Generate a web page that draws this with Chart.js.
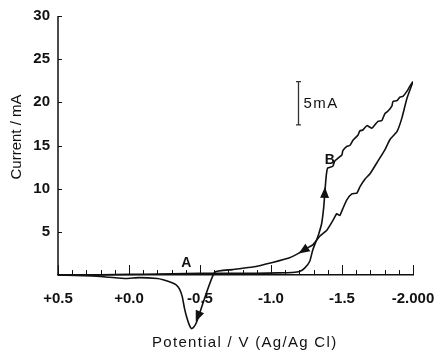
<!DOCTYPE html>
<html>
<head>
<meta charset="utf-8">
<script src="https://cdn.jsdelivr.net/npm/chart.js@4.4.0/dist/chart.umd.min.js"></script>
<style>
  html, body { margin: 0; padding: 0; background: #fff; }
</style>
</head>
<body>
<canvas id="cv" width="438" height="351"></canvas>
<script>
// forward sweep, +0.5 V -> -2.0 V (current in mA)
const forwardV = [0.5, 0.3, 0.1, -0.1, -0.3, -0.5, -0.7, -0.9, -1.05, -1.15, -1.2, -1.237, -1.273, -1.294,
  -1.315, -1.335, -1.357, -1.371, -1.379, -1.386, -1.393, -1.4, -1.435, -1.449, -1.47, -1.499, -1.506,
  -1.534, -1.555, -1.577, -1.612, -1.626, -1.647, -1.675, -1.711, -1.732, -1.753, -1.781, -1.802,
  -1.824, -1.852, -1.859, -1.887, -1.908, -1.929, -1.958, -1.979, -2.0];
const forwardI = [0, 0, 0.05, 0.1, 0.15, 0.2, 0.2, 0.2, 0.25, 0.3, 0.4, 0.8, 1.6, 2.9,
  3.8, 4.7, 6.0, 7.8, 9.5, 11.0, 12.0, 12.4, 12.6, 13.2, 13.5, 13.9, 14.4,
  14.9, 15.0, 15.6, 16.2, 16.7, 16.8, 17.3, 17.0, 17.4, 17.8, 17.9, 18.7,
  19.0, 19.6, 20.1, 20.2, 20.6, 20.7, 21.3, 21.9, 22.4];

// reverse sweep, -2.0 V -> +0.5 V
const reverseV = [-2.0, -1.958, -1.922, -1.887, -1.838, -1.802, -1.753, -1.696, -1.661, -1.626, -1.605,
  -1.569, -1.534, -1.506, -1.484, -1.463, -1.435, -1.393, -1.343, -1.294, -1.251, -1.202, -1.131,
  -1.011, -0.87, -0.729, -0.602, -0.475, -0.455, -0.44, -0.425, -0.405, -0.39, -0.375, -0.355,
  -0.33, -0.29, -0.24, -0.2, -0.072, 0.02, 0.14, 0.26, 0.5];
const reverseI = [22.4, 20.5, 18.2, 16.6, 15.7, 14.5, 13.2, 11.7, 11.1, 10.2, 9.5,
  9.4, 8.7, 7.7, 6.9, 7.1, 6.3, 5.2, 4.5, 3.5, 3.1, 2.6, 2.0,
  1.46, 0.93, 0.63, 0.3, -5.5, -6.05, -6.2, -5.8, -4.8, -3.8, -2.5, -1.6,
  -1.1, -0.8, -0.55, -0.4, -0.3, -0.4, -0.25, -0.1, 0];

const xTickLabels = { "5": "+0.5", "0": "+0.0", "-5": "-0.5", "-10": "-1.0", "-15": "-1.5", "-20": "-2.000" };
const yTickValues = [5, 10, 15, 20, 25, 30];

// peak labels and sweep arrows, in data units (V, mA)
const peakLabels = [["A", -0.404, 1.4], ["B", -1.414, 13.3]];
const arrows = [
  [-1.376, 8.3, -1.380, 10.2],
  [-1.25, 3.1, -1.195, 2.5],
  [-0.53, -3.0, -0.47, -5.4]
];
const scaleBar = { v: -1.188, from: 17.4, size: 5, text: "5mA" };

const fam = '"Liberation Sans", Arial, Helvetica, sans-serif';
const ink = '#111';

function toPoints(xs, ys) {
  return xs.map((v, i) => ({ x: v, y: ys[i] }));
}

const decor = {
  id: 'decor',
  afterDatasetsDraw(chart) {
    const ctx = chart.ctx;
    const xs = chart.scales.x, ys = chart.scales.y;
    const area = chart.chartArea;
    const y0 = ys.getPixelForValue(0);
    ctx.save();
    ctx.strokeStyle = ink;
    ctx.fillStyle = ink;

    // y axis line from 0 to 30
    ctx.lineWidth = 1.5;
    ctx.beginPath();
    ctx.moveTo(area.left, y0);
    ctx.lineTo(area.left, ys.getPixelForValue(30));
    ctx.stroke();

    // inward ticks
    ctx.lineWidth = 1;
    yTickValues.forEach(v => {
      const p = Math.round(ys.getPixelForValue(v)) + 0.5;
      ctx.beginPath();
      ctx.moveTo(area.left, p);
      ctx.lineTo(area.left + 4, p);
      ctx.stroke();
    });
    xs.ticks.forEach(t => {
      const k = Math.round(t.value * 10);
      const p = Math.round(xs.getPixelForValue(t.value)) + 0.5;
      const len = k % 5 === 0 ? 10 : 5;
      ctx.beginPath();
      ctx.moveTo(p, y0);
      ctx.lineTo(p, y0 - len);
      ctx.stroke();
    });

    // arrowheads along the sweep
    arrows.forEach(a => {
      const x1 = xs.getPixelForValue(a[0]), y1 = ys.getPixelForValue(a[1]);
      const x2 = xs.getPixelForValue(a[2]), y2 = ys.getPixelForValue(a[3]);
      const ang = Math.atan2(y2 - y1, x2 - x1);
      const L = 11, W = 4.5;
      ctx.beginPath();
      ctx.moveTo(x2, y2);
      ctx.lineTo(x2 - L * Math.cos(ang) + W * Math.sin(ang), y2 - L * Math.sin(ang) - W * Math.cos(ang));
      ctx.lineTo(x2 - L * Math.cos(ang) - W * Math.sin(ang), y2 - L * Math.sin(ang) + W * Math.cos(ang));
      ctx.closePath();
      ctx.fill();
    });

    // A / B labels
    ctx.textAlign = 'center';
    ctx.textBaseline = 'middle';
    peakLabels.forEach(l => {
      ctx.font = 'bold 14px ' + fam;
      ctx.fillText(l[0], xs.getPixelForValue(l[1]), ys.getPixelForValue(l[2]));
    });

    // 5 mA scale bar
    const bx = Math.round(xs.getPixelForValue(scaleBar.v)) + 0.5;
    const b1 = ys.getPixelForValue(scaleBar.from);
    const b2 = ys.getPixelForValue(scaleBar.from + scaleBar.size);
    ctx.strokeStyle = '#333';
    ctx.lineWidth = 1.3;
    ctx.beginPath();
    ctx.moveTo(bx, b1); ctx.lineTo(bx, b2);
    ctx.moveTo(bx - 2.5, b1); ctx.lineTo(bx + 2.5, b1);
    ctx.moveTo(bx - 2.5, b2); ctx.lineTo(bx + 2.5, b2);
    ctx.stroke();
    ctx.font = '15px ' + fam;
    ctx.textAlign = 'left';
    ctx.letterSpacing = '1.5px';
    ctx.fillText(scaleBar.text, bx + 5, (b1 + b2) / 2 + 1);

    // axis titles
    ctx.letterSpacing = '1.3px';
    ctx.font = '15px ' + fam;
    ctx.textBaseline = 'alphabetic';
    ctx.fillText('Potential / V (Ag/Ag Cl)', 152, 347);
    ctx.letterSpacing = '0px';
    ctx.translate(17, 137);
    ctx.rotate(-Math.PI / 2);
    ctx.textAlign = 'center';
    ctx.textBaseline = 'middle';
    ctx.fillText('Current / mA', 0, 0);
    ctx.restore();
  }
};

const lineStyle = { borderColor: ink, borderWidth: 1.6, pointRadius: 0, tension: 0.15, fill: false };

new Chart(document.getElementById('cv').getContext('2d'), {
  type: 'line',
  data: {
    datasets: [
      Object.assign({ label: 'forward', data: toPoints(forwardV, forwardI) }, lineStyle),
      Object.assign({ label: 'reverse', data: toPoints(reverseV, reverseI) }, lineStyle)
    ]
  },
  options: {
    responsive: false,
    animation: false,
    layout: { padding: { left: 0, right: 25, top: 16, bottom: 15.5 } },
    plugins: { legend: { display: false }, tooltip: { enabled: false } },
    scales: {
      x: {
        type: 'linear',
        reverse: true,
        min: -2.0,
        max: 0.5,
        position: { y: 0 },
        grid: { display: true, drawOnChartArea: false, drawTicks: false },
        border: { display: true, color: ink, width: 1.5 },
        ticks: {
          stepSize: 0.1,
          autoSkip: false,
          maxRotation: 0,
          padding: 15,
          color: ink,
          font: { family: fam, size: 15, weight: 'bold' },
          callback: v => xTickLabels[Math.round(v * 10)] || ''
        },
        afterFit: s => { s.paddingLeft = 0; s.paddingRight = 0; s.paddingTop = 0; s.paddingBottom = 0; }
      },
      y: {
        min: -7,
        max: 30,
        grid: { display: true, drawOnChartArea: false, drawTicks: false },
        border: { display: false },
        ticks: {
          stepSize: 5,
          padding: 8,
          color: ink,
          font: { family: fam, size: 15, weight: 'bold' },
          callback: v => (v > 0 ? v : '')
        },
        afterFit: s => { s.width = 58; s.paddingTop = 0; s.paddingBottom = 0; }
      }
    }
  },
  plugins: [decor]
});
</script>
</body>
</html>
